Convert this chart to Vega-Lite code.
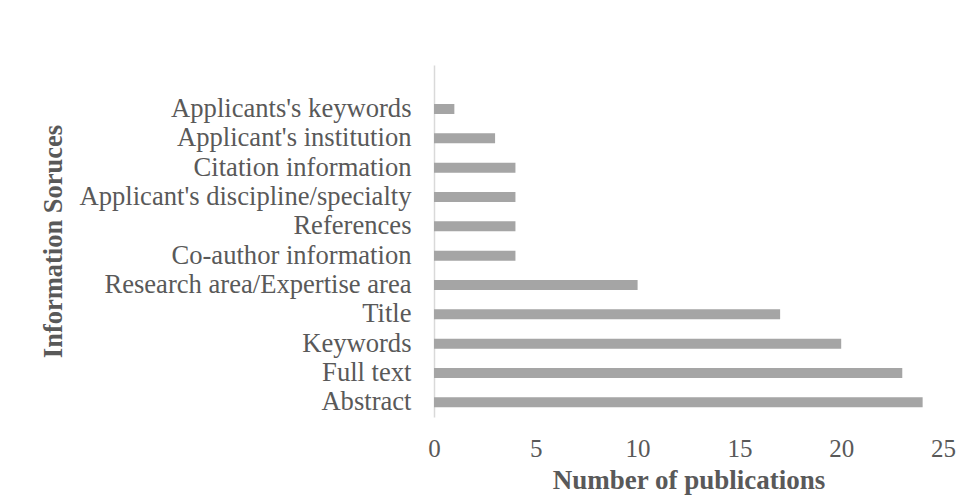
{
  "$schema": "https://vega.github.io/schema/vega-lite/v6.json",
  "autosize": "none",
  "width": 509,
  "height": 352,
  "padding": {"left": 434, "top": 65, "right": 20, "bottom": 85},
  "background": "white",
  "config": {
    "view": {"stroke": null},
    "font": "Liberation Serif",
    "axis": {"labelFont": "Liberation Serif", "titleFont": "Liberation Serif", "labelColor": "#595959", "titleColor": "#595959"}
  },
  "data": {
    "values": [
      {"source": "Abstract", "count": 24},
      {"source": "Full text", "count": 23},
      {"source": "Keywords", "count": 20},
      {"source": "Title", "count": 17},
      {"source": "Research area/Expertise area", "count": 10},
      {"source": "Co-author information", "count": 4},
      {"source": "References", "count": 4},
      {"source": "Applicant's discipline/specialty", "count": 4},
      {"source": "Citation information", "count": 4},
      {"source": "Applicant's institution", "count": 3},
      {"source": "Applicants's keywords", "count": 1}
    ]
  },
  "mark": {"type": "bar", "color": "#A5A5A5"},
  "encoding": {
    "y": {
      "field": "source",
      "type": "nominal",
      "scale": {
        "domain": [" ", "Applicants's keywords", "Applicant's institution", "Citation information", "Applicant's discipline/specialty", "References", "Co-author information", "Research area/Expertise area", "Title", "Keywords", "Full text", "Abstract"],
        "paddingInner": 0.66,
        "paddingOuter": 0.33
      },
      "axis": {
        "title": "Information Soruces",
        "titleFontSize": 26.5,
        "titleFontWeight": "bold",
        "titleX": -367,
        "titleY": 176,
        "titleAngle": -90,
        "titleBaseline": "bottom",
        "titleAlign": "center",
        "labelFontSize": 26.6,
        "labelPadding": 23,
        "ticks": false,
        "tickSize": 0,
        "domainColor": "#D9D9D9",
        "domainWidth": 1.5,
        "grid": false,
        "labelLimit": 500
      }
    },
    "x": {
      "field": "count",
      "type": "quantitative",
      "scale": {"domain": [0, 25], "nice": false},
      "axis": {
        "title": "Number of publications",
        "titleFontSize": 27,
        "titleFontWeight": "bold",
        "titlePadding": 6,
        "values": [0, 5, 10, 15, 20, 25],
        "labelFontSize": 25,
        "labelPadding": 19,
        "labelFlush": false,
        "ticks": false,
        "tickSize": 0,
        "domain": false,
        "grid": false
      }
    }
  }
}
